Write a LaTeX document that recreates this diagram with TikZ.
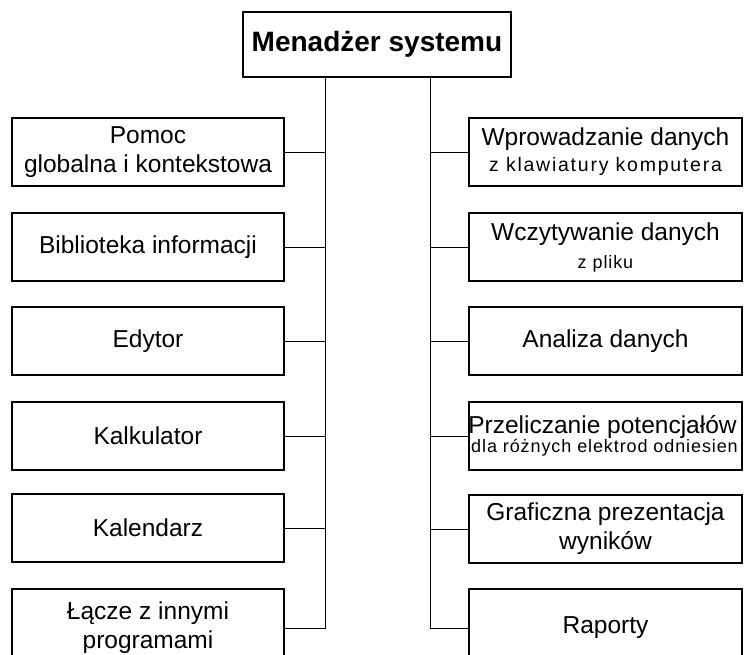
\documentclass[tikz,border=0pt]{standalone}
\usepackage{fontspec}
\setmainfont{Liberation Sans}
\newfontfamily\smallfont[LetterSpace=5]{Liberation Sans}
\newfontfamily\widefont[LetterSpace=9]{Liberation Sans}

\newcommand{\bigtxt}{\fontsize{24.5}{29}\selectfont}
\newcommand{\smalltxt}{\fontsize{18}{22}\smallfont}
\newcommand{\widetxt}{\fontsize{19.5}{22}\widefont}

\tikzset{
	modul/.style={draw, line width=1.2pt, minimum width=272pt, minimum height=68pt,
		inner sep=0pt, align=center, font=\bigtxt},
	glowny/.style={draw, line width=1.2pt, minimum width=268pt, minimum height=65pt,
		inner sep=0pt, font=\fontsize{28}{32}\selectfont\bfseries},
	lacznik/.style={line width=0.8pt}
}

\begin{document}
\begin{tikzpicture}[x=1pt,y=-1pt]
	\useasboundingbox (0,0) rectangle (744,654);

	\node[glowny] (menadzer) at (377,44.5) {Menadżer systemu};

	% lewa kolumna
	\node[modul] (l1) at (148,152) {Pomoc\\globalna i kontekstowa};
	\node[modul] (l2) at (148,247) {Biblioteka informacji};
	\node[modul] (l3) at (148,341) {Edytor};
	\node[modul] (l4) at (148,436) {Kalkulator};
	\node[modul] (l5) at (148,528) {Kalendarz};
	\node[modul, minimum height=78pt] (l6) at (148,628) {Łącze z innymi\\programami};

	% prawa kolumna
	\node[modul, minimum width=273pt] (r1) at (605.5,152)
		{Wprowadzanie danych\\[-3pt]{\widetxt z klawiatury komputera}};
	\node[modul, minimum width=273pt] (r2) at (605.5,247)
		{Wczytywanie danych\\[-1pt]{\smalltxt z pliku}};
	\node[modul, minimum width=273pt] (r3) at (605.5,341) {Analiza danych};
	\node[modul, minimum width=273pt] (r4) at (605.5,436)
		{\raisebox{-4pt}{\makebox[0pt]{Przeliczanie potencjałów\hspace{6pt}}}\\[-6pt]{\smalltxt\makebox[0pt]{dla różnych elektrod odniesien\hspace{2pt}}}};
	\node[modul, minimum width=273pt] (r5) at (605.5,529) {Graficzna prezentacja\\wyników};
	\node[modul, minimum width=273pt, minimum height=78pt] (r6) at (605.5,628)
		{\raisebox{6pt}{Raporty}};

	\coordinate (lt) at (325,0);
	\coordinate (rt) at (430,0);

	% pnie
	\draw[lacznik] (menadzer.south -| lt) -- (lt |- l6.east) -- (l6.east);
	\draw[lacznik] (menadzer.south -| rt) -- (rt |- r6.west) -- (r6.west);

	% odgalezienia
	\foreach \i in {1,...,5} {
		\draw[lacznik] (l\i.east) -- (l\i.east -| lt);
		\draw[lacznik] (r\i.west) -- (r\i.west -| rt);
	}
\end{tikzpicture}
\end{document}
